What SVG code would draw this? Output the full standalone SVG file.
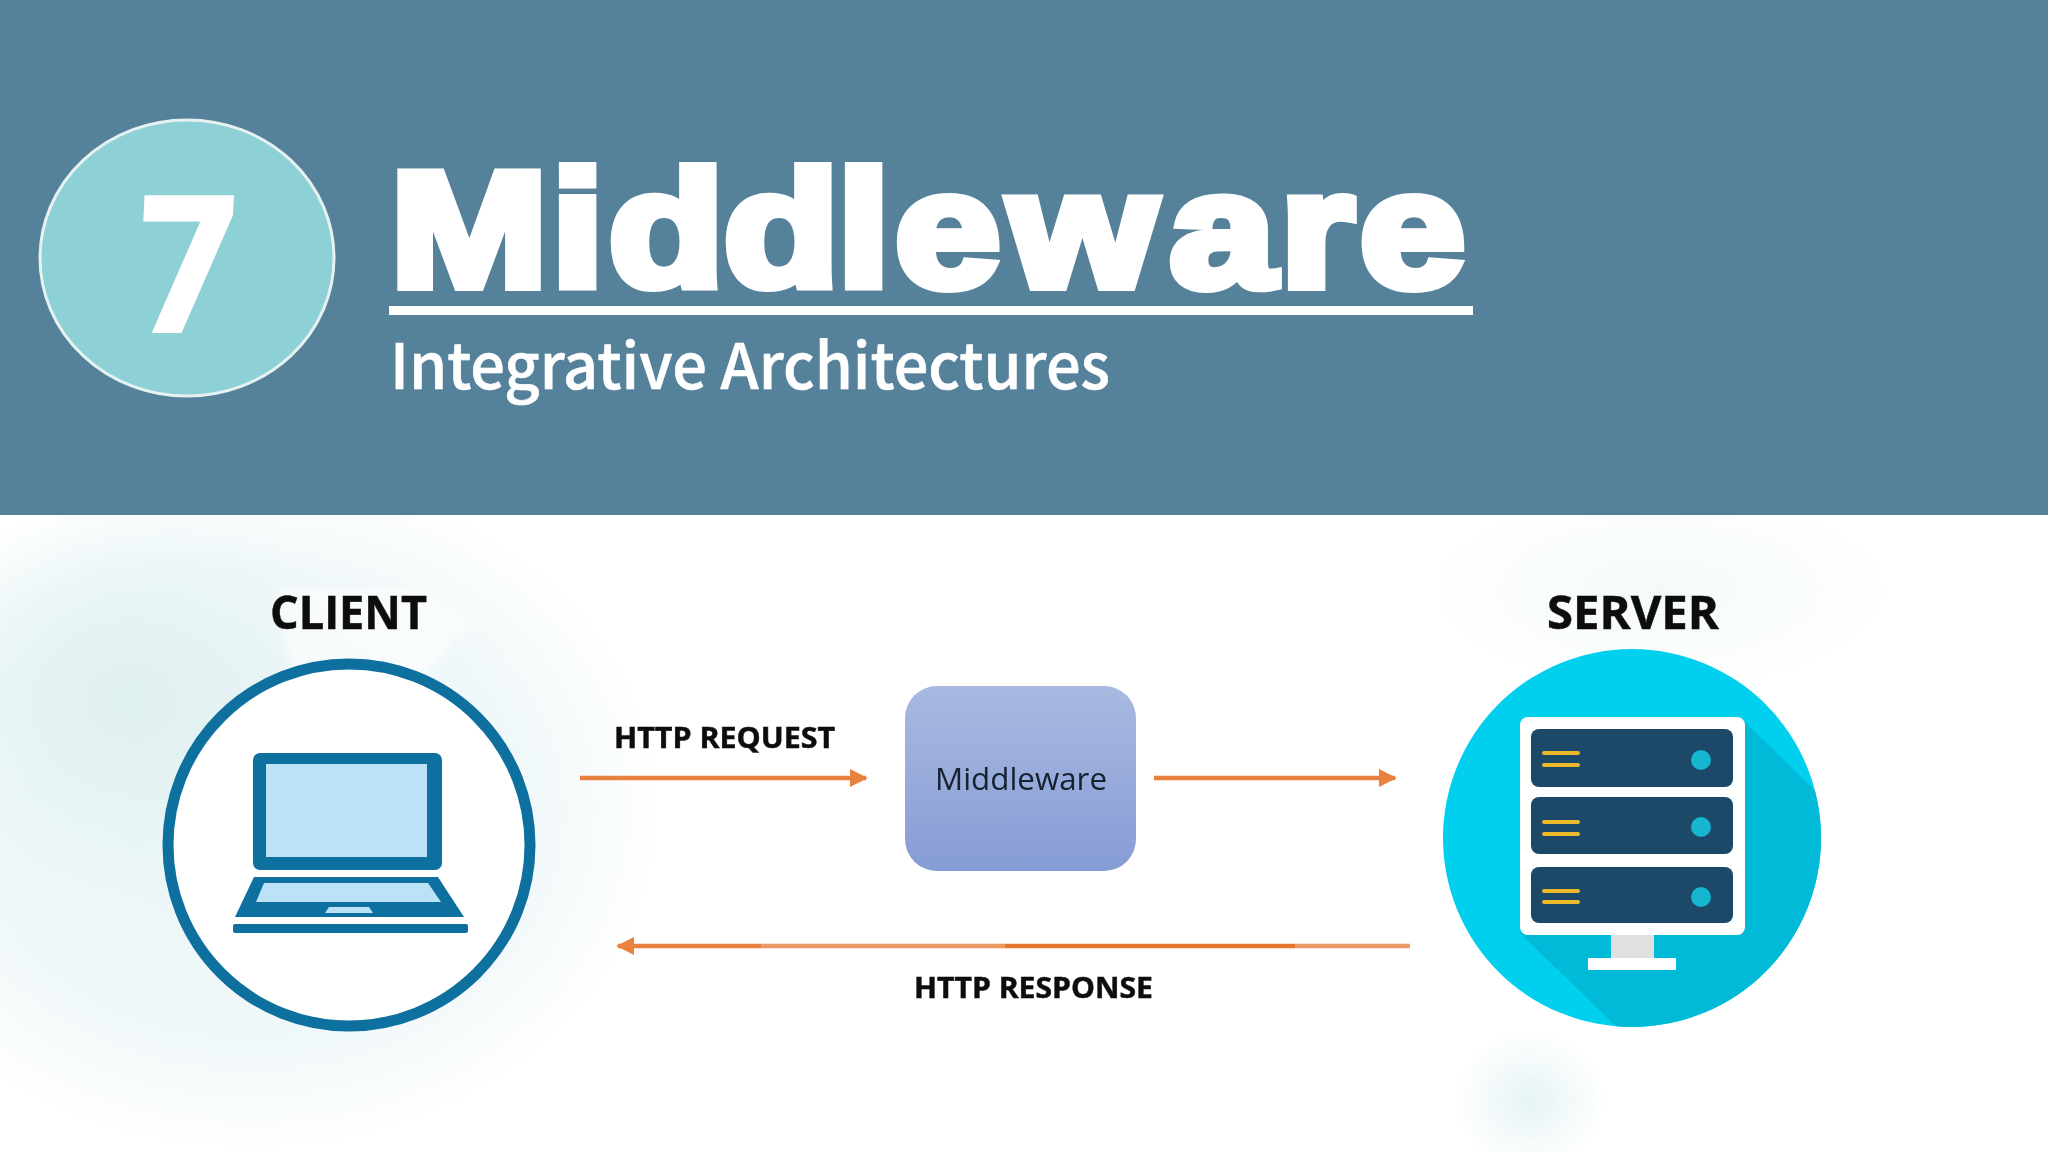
<svg xmlns="http://www.w3.org/2000/svg" width="2048" height="1152" viewBox="0 0 2048 1152">
<style>
.lbl{font-family:"Open Sans","Liberation Sans",sans-serif;font-weight:700;fill:#111;stroke:#111;stroke-width:.5}
.conn{fill:none;stroke:#E8803F;stroke-width:4.5}
.ico{fill:#0F6F9F}
.scr{fill:#BCE2F8}
.panel{fill:#1A4868}
.led{fill:#14B5D0}
.bar{stroke:#EDB92A;stroke-width:4;stroke-linecap:round}
</style>
<defs>
<radialGradient id="halo"><stop offset="0" stop-color="#EAF5F6"/><stop offset=".7" stop-color="#F1F8F9"/><stop offset="1" stop-color="#fff"/></radialGradient>
<radialGradient id="halo3"><stop offset="0" stop-color="#DFF0F1"/><stop offset="1" stop-color="#DFF0F1" stop-opacity="0"/></radialGradient>
<radialGradient id="halo2"><stop offset="0" stop-color="#E6F3F4"/><stop offset="1" stop-color="#fff"/></radialGradient>
<linearGradient id="box" x1="0" y1="0" x2="0" y2="1"><stop offset="0" stop-color="#A9B9E1"/><stop offset="1" stop-color="#869CD5"/></linearGradient>
<linearGradient id="resp" gradientUnits="userSpaceOnUse" x1="618" y1="0" x2="1415" y2="0">
<stop offset="0" stop-color="#E8803F"/><stop offset=".18" stop-color="#E8803F"/><stop offset=".18" stop-color="#EC9A63"/><stop offset=".486" stop-color="#EC9A63"/><stop offset=".486" stop-color="#E8742E"/><stop offset=".85" stop-color="#E8742E"/><stop offset=".85" stop-color="#EC9A63"/><stop offset="1" stop-color="#EC9A63"/>
</linearGradient>
<marker id="head" viewBox="0 0 10 10" refX="9" refY="5" markerUnits="userSpaceOnUse" markerWidth="18" markerHeight="18" orient="auto"><path d="M0 0L10 5L0 10Z" fill="#E8803F"/></marker>
<clipPath id="srvClip"><circle cx="1632" cy="838" r="189"/></clipPath>
<filter id="soft" x="-5%" y="-5%" width="110%" height="110%"><feGaussianBlur stdDeviation="0.7"/></filter>
<filter id="wedge" x="-20%" y="-20%" width="140%" height="140%"><feGaussianBlur stdDeviation="4"/></filter>
</defs>
<rect width="2048" height="1152" fill="#fff"/>
<g id="background">
<ellipse cx="250" cy="810" rx="410" ry="340" fill="url(#halo)"/>
<ellipse cx="130" cy="700" rx="240" ry="200" fill="url(#halo3)"/>
<path d="M275 590L415 590L470 620L420 680L290 670Z" fill="#fff" opacity=".6" filter="url(#wedge)"/>
<ellipse cx="1530" cy="1100" rx="75" ry="70" fill="url(#halo2)"/>
<ellipse cx="1660" cy="590" rx="230" ry="100" fill="url(#halo2)" opacity=".45"/>
</g>
<rect id="header" width="2048" height="515" fill="#55829A"/>
<g id="badge">
<ellipse cx="187" cy="258" rx="147" ry="138" fill="#8DD0D6" stroke="#E6F1F1" stroke-width="3"/>
<text x="0" y="0" transform="translate(184 333) scale(.86 1) skewX(-3)" text-anchor="middle" font-family="'DejaVu Sans',sans-serif" font-weight="700" font-size="189" fill="#fff">7</text>
</g>
<g id="title">
<text y="286" transform="scale(1.15 1)" x="339.6 479.6 529.4 629.4 728.3 778.4 877.6 1017.4 1113.5 1182.7" font-family="'Liberation Sans',sans-serif" font-weight="700" font-size="164" fill="#fff" stroke="#fff" stroke-width="10">Middleware</text>
<rect x="389" y="306" width="1084" height="9" fill="#fff"/>
<text x="390" y="389" font-family="'Noto Sans CJK JP','Noto Sans',sans-serif" font-weight="500" font-size="63" fill="#fff" stroke="#fff" stroke-width=".6" textLength="720" lengthAdjust="spacingAndGlyphs">Integrative Architectures</text>
</g>
<g id="connectors" filter="url(#soft)">
<line class="conn" x1="580" y1="778" x2="866" y2="778" marker-end="url(#head)"/>
<line class="conn" x1="1154" y1="778" x2="1395" y2="778" marker-end="url(#head)"/>
<line class="conn" x1="1410" y1="946" x2="618" y2="946" style="stroke:url(#resp)" marker-end="url(#head)"/>
<text class="lbl" x="614" y="748" font-size="29" textLength="221" lengthAdjust="spacingAndGlyphs">HTTP REQUEST</text>
<text class="lbl" x="914" y="998" font-size="29" textLength="239" lengthAdjust="spacingAndGlyphs">HTTP RESPONSE</text>
</g>
<g id="client" filter="url(#soft)">
<text class="lbl" x="270" y="629" font-size="47" textLength="157" lengthAdjust="spacingAndGlyphs">CLIENT</text>
<circle cx="349" cy="845" r="181" fill="#fff" stroke="#0F6F9F" stroke-width="11"/>
<rect class="ico" x="253" y="753" width="189" height="117" rx="7"/>
<rect class="scr" x="266" y="764" width="161" height="93"/>
<path class="ico" d="M254 877H438L464 917H235Z"/>
<path class="scr" d="M264 883H428L441 902H256Z"/>
<path class="scr" d="M329 907H369L373 913H325Z"/>
<rect class="ico" x="233" y="924" width="235" height="9" rx="2"/>
</g>
<g id="middleware" filter="url(#soft)">
<rect x="905" y="686" width="231" height="185" rx="32" fill="url(#box)"/>
<text x="1021" y="790" text-anchor="middle" font-family="'Open Sans','Liberation Sans',sans-serif" font-size="31" fill="#15202E" textLength="172" lengthAdjust="spacingAndGlyphs">Middleware</text>
</g>
<g id="server" filter="url(#soft)">
<text class="lbl" x="1547" y="629" font-size="47" textLength="172" lengthAdjust="spacingAndGlyphs">SERVER</text>
<circle cx="1632" cy="838" r="189" fill="#00CFEE"/>
<path clip-path="url(#srvClip)" d="M1745 722L1840 815V1040H1630L1520 933Z" fill="#00BAD8"/>
<rect x="1520" y="717" width="225" height="218" rx="8" fill="#fff"/>
<rect class="panel" x="1531" y="729" width="202" height="58" rx="8"/>
<rect class="panel" x="1531" y="797" width="202" height="57" rx="8"/>
<rect class="panel" x="1531" y="867" width="202" height="56" rx="8"/>
<path class="bar" d="M1544 753H1578M1544 765H1578M1544 822H1578M1544 834H1578M1544 891H1578M1544 902H1578"/>
<circle class="led" cx="1701" cy="760" r="10"/>
<circle class="led" cx="1701" cy="827" r="10"/>
<circle class="led" cx="1701" cy="897" r="10"/>
<rect x="1611" y="935" width="43" height="23" fill="#E0E0E0"/>
<rect x="1588" y="958" width="88" height="12" fill="#fff"/>
</g>
</svg>
